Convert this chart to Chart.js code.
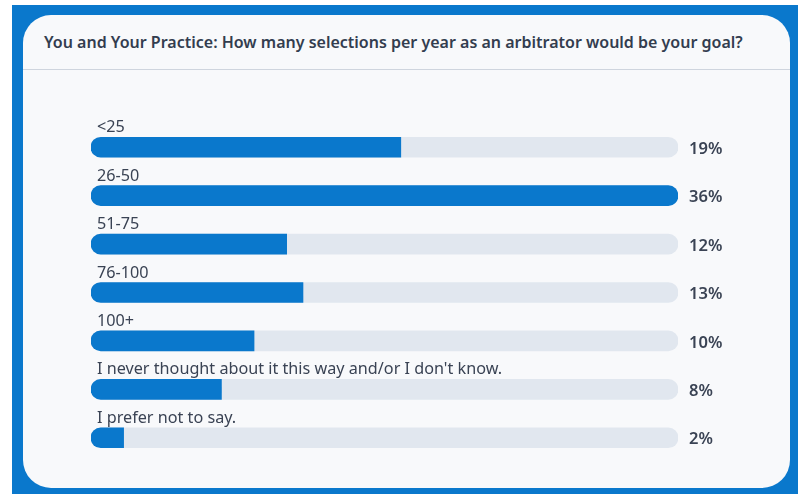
<!DOCTYPE html>
<html>
<head>
<meta charset="utf-8">
<script src="https://cdn.jsdelivr.net/npm/chart.js@4"></script>
<style>
  html, body { margin: 0; padding: 0; background: #ffffff; }
  body { width: 798px; height: 494px; position: relative; overflow: hidden; font-family: "Source Sans Pro", "Noto Sans", sans-serif; }
  .frame { position: absolute; left: 12px; top: 5px; right: 0; bottom: 0; background: #0a78cc; }
  .card { position: absolute; left: 23px; top: 15px; width: 767px; height: 473px; background: #f8f9fb; border-radius: 28px; }
  .titulo { position: absolute; left: 21px; top: 16px; font-size: 16px; font-weight: 600; color: #333d4f; white-space: nowrap; }
  .linha { position: absolute; left: 0; right: 0; top: 54px; border-top: 1px solid #cfd5de; }
  canvas { position: absolute; left: 0; top: 0; }
</style>
</head>
<body>
<div class="frame"></div>
<div class="card">
  <div class="titulo">You and Your Practice: How many selections per year as an arbitrator would be your goal?</div>
  <div class="linha"></div>
</div>
<canvas id="grafico" width="798" height="494"></canvas>
<script>
// respostas da enquete
var opcoes = ['<25', '26-50', '51-75', '76-100', '100+', "I never thought about it this way and/or I don't know.", 'I prefer not to say.'];
var percentuais = [19, 36, 12, 13, 10, 8, 2];
var maximo = Math.max(...percentuais);
var fundo = opcoes.map(function () { return maximo; });

// escreve o nome acima da barra e o percentual a direita
const textosBarras = {
    id: 'textosBarras',
    afterDatasetsDraw(chart) {
        const c = chart.ctx;
        const meta = chart.getDatasetMeta(1);
        const area = chart.chartArea;
        c.save();
        c.fillStyle = '#3a4354';
        meta.data.forEach(function (bar, i) {
            c.font = '16.2px "Source Sans Pro", "Noto Sans", sans-serif';
            c.textAlign = 'left';
            c.textBaseline = 'alphabetic';
            c.fillText(opcoes[i], area.left + 6, bar.y - 15);
            c.font = '600 16.5px "Source Sans Pro", "Noto Sans", sans-serif';
            c.textBaseline = 'middle';
            c.fillText(percentuais[i] + '%', area.right + 11, bar.y + 2);
        });
        c.restore();
    }
};

const ctx = document.getElementById('grafico');

new Chart(ctx, {
    type: 'bar',
    data: {
        labels: opcoes,
        datasets: [{
            data: fundo,
            backgroundColor: '#e1e7ef',
            borderRadius: 10,
            borderSkipped: false,
            barThickness: 20,
            grouped: false,
            order: 2
        }, {
            data: percentuais,
            backgroundColor: '#0a78cc',
            borderRadius: 10,
            borderSkipped: function (c) { return c.raw >= maximo ? false : 'right'; },
            barThickness: 20,
            grouped: false,
            order: 1
        }]
    },
    options: {
        indexAxis: 'y',
        responsive: false,
        animation: false,
        layout: { padding: { left: 91, right: 120, top: 123, bottom: 32 } },
        scales: {
            x: { display: false, min: 0, max: maximo },
            y: { display: false }
        },
        plugins: {
            legend: { display: false },
            tooltip: { enabled: false }
        }
    },
    plugins: [textosBarras]
});
</script>
</body>
</html>
